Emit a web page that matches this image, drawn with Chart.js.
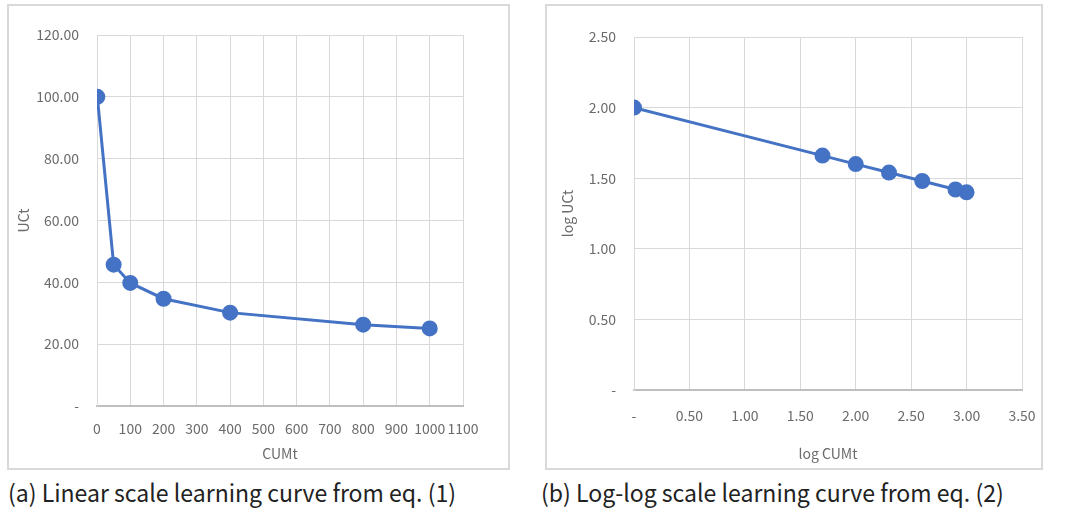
<!DOCTYPE html>
<html>
<head>
<meta charset="utf-8">
<script src="https://cdn.jsdelivr.net/npm/chart.js@4.4.0/dist/chart.umd.min.js"></script>
<style>
    body { margin: 0; background: #fff; width: 1065px; height: 523px; position: relative; overflow: hidden; }
    .box { position: absolute; box-sizing: border-box; border: 2px solid #d9d9d9; }
    canvas { position: absolute; }
    .caption { position: absolute; font-family: "Noto Sans CJK KR", "Noto Sans", sans-serif; font-size: 24px; color: #222; white-space: nowrap; line-height: 1; transform: scaleX(0.96); transform-origin: left top; }
</style>
</head>
<body>
<div class="box" style="left:7px; top:4px; width:503px; height:466px;"></div>
<canvas id="linear-chart" width="503" height="466" style="left:7px; top:4px;"></canvas>
<div class="box" style="left:545px; top:4px; width:498px; height:466px;"></div>
<canvas id="loglog-chart" width="498" height="466" style="left:545px; top:4px;"></canvas>
<div class="caption" style="left:8px; top:480px;">(a) Linear scale learning curve from eq. (1)</div>
<div class="caption" style="left:541px; top:480px;">(b) Log-log scale learning curve from eq. (2)</div>
<script>
// values
const cumUnits = [1, 50, 100, 200, 400, 800, 1000];
const unitCost = [100, 45.7, 39.8, 34.7, 30.2, 26.3, 25.1];

const logCum = [0, 1.70, 2.00, 2.30, 2.60, 2.90, 3.00];
const logCost = [2.00, 1.66, 1.60, 1.54, 1.48, 1.42, 1.40];

const linearXTicks = [0, 100, 200, 300, 400, 500, 600, 700, 800, 900, 1000, 1100];
const linearYTicks = [0, 20, 40, 60, 80, 100, 120];
const logXTicks = [0, 0.5, 1, 1.5, 2, 2.5, 3, 3.5];
const logYTicks = [0, 0.5, 1, 1.5, 2, 2.5];

const BLUE = '#4472c4';
const GRID = '#d9d9d9';
const TEXT = '#6b6b6b';
const FONT = '"Noto Sans CJK KR", "Noto Sans", sans-serif';

// excel accounting style: zero shows as a dash
function fmtFixed(v) {
    return v === 0 ? '-' : v.toFixed(2);
}

function fixedTicks(list) {
    return (axis) => {
        axis.ticks = list.map((v) => ({ value: v }));
    };
}

function buildChart(id, xs, ys, opts) {
    const el = document.getElementById(id);
    const points = xs.map((x, i) => ({ x, y: ys[i] }));

    return new Chart(el.getContext('2d'), {
        type: 'scatter',
        data: {
            datasets: [
                {
                    data: points,
                    showLine: true,
                    borderColor: BLUE,
                    backgroundColor: BLUE,
                    borderWidth: 3,
                    pointRadius: 6.5,
                    pointHoverRadius: 6.5,
                    tension: 0,
                },
            ],
        },
        options: {
            responsive: false,
            animation: false,
            layout: { padding: { left: 0, top: opts.top, right: opts.right, bottom: 0 } },
            plugins: { legend: { display: false }, tooltip: { enabled: false } },
            scales: {
                x: {
                    type: 'linear',
                    min: opts.xMin,
                    max: opts.xMax,
                    afterBuildTicks: fixedTicks(opts.xTicks),
                    afterFit: (axis) => {
                        axis.height = opts.xHeight;
                        // plot edges are set by layout padding only
                        axis.paddingLeft = 0;
                        axis.paddingRight = 0;
                    },
                    grid: { color: GRID, drawTicks: false },
                    border: { color: '#bfbfbf', width: 2 },
                    ticks: {
                        padding: opts.xPad,
                        color: TEXT,
                        font: { family: FONT, size: 14 },
                        maxRotation: 0,
                        autoSkip: false,
                        callback: opts.xFmt,
                    },
                    title: {
                        display: true,
                        text: opts.xTitle,
                        color: TEXT,
                        font: { family: FONT, size: 14 },
                        padding: { top: 0, bottom: opts.xTitlePad },
                    },
                },
                y: {
                    min: opts.yMin,
                    max: opts.yMax,
                    afterBuildTicks: fixedTicks(opts.yTicks),
                    afterFit: (axis) => { axis.width = opts.yWidth; },
                    grid: { color: GRID, drawTicks: false },
                    border: { color: GRID },
                    ticks: {
                        padding: 18,
                        color: TEXT,
                        font: { family: FONT, size: 14 },
                        callback: fmtFixed,
                    },
                    title: {
                        display: true,
                        text: opts.yTitle,
                        color: TEXT,
                        font: { family: FONT, size: 14 },
                        padding: { top: opts.yTitlePad, bottom: 0 },
                    },
                },
            },
        },
    });
}

buildChart('linear-chart', cumUnits, unitCost, {
    xMin: 0, xMax: 1100, yMin: 0, yMax: 120,
    xTicks: linearXTicks, yTicks: linearYTicks,
    xFmt: (v) => String(v),
    xTitle: 'CUMt', yTitle: 'UCt',
    top: 31, right: 47, yWidth: 90, xHeight: 64,
    xPad: 14, xTitlePad: 8, yTitlePad: 8,
});

buildChart('loglog-chart', logCum, logCost, {
    xMin: 0, xMax: 3.5, yMin: 0, yMax: 2.5,
    xTicks: logXTicks, yTicks: logYTicks,
    xFmt: fmtFixed,
    xTitle: 'log CUMt', yTitle: 'log UCt',
    top: 33, right: 21, yWidth: 89, xHeight: 80,
    xPad: 17, xTitlePad: 8, yTitlePad: 14,
});
</script>
</body>
</html>
